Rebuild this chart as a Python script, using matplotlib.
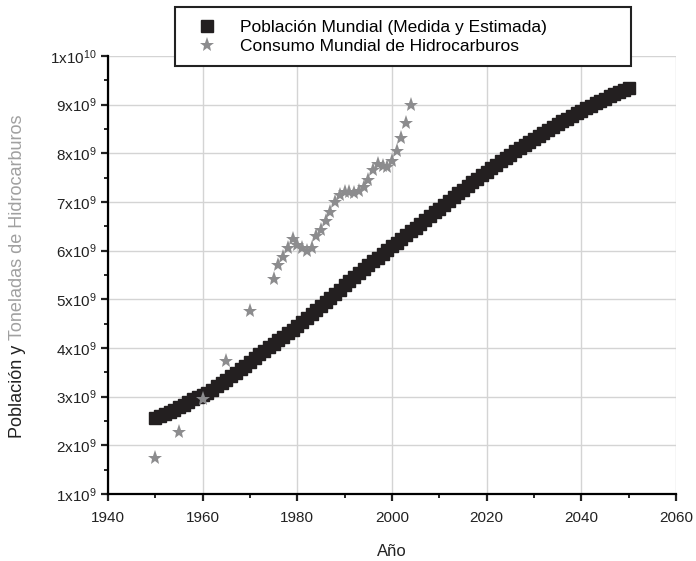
import numpy as np
import matplotlib
matplotlib.use("Agg")
import matplotlib.pyplot as plt
from matplotlib.ticker import FuncFormatter, MultipleLocator

plt.rcParams["font.family"] = ["Liberation Sans", "DejaVu Sans"]
plt.rcParams["mathtext.fontset"] = "custom"
plt.rcParams["mathtext.rm"] = "Liberation Sans"

# world population, 1950-2050 (measured + projected), billions
pop_years = list(range(1950, 2051))
pop_values = [
    2.558, 2.595, 2.637, 2.682, 2.730, 2.782, 2.835, 2.891, 2.948, 3.001,
    3.043, 3.084, 3.140, 3.210, 3.281, 3.350, 3.421, 3.490, 3.562, 3.637,
    3.713, 3.790, 3.867, 3.942, 4.017, 4.089, 4.160, 4.232, 4.304, 4.379,
    4.451, 4.534, 4.615, 4.696, 4.775, 4.856, 4.941, 5.027, 5.115, 5.201,
    5.289, 5.372, 5.456, 5.538, 5.619, 5.699, 5.779, 5.858, 5.935, 6.012,
    6.089, 6.165, 6.242, 6.319, 6.396, 6.473, 6.551, 6.630, 6.709, 6.788,
    6.866, 6.944, 7.022, 7.100, 7.177, 7.254, 7.330, 7.405, 7.479, 7.552,
    7.624, 7.696, 7.767, 7.837, 7.906, 7.974, 8.041, 8.107, 8.172, 8.236,
    8.299, 8.361, 8.422, 8.482, 8.541, 8.599, 8.656, 8.712, 8.767, 8.821,
    8.874, 8.926, 8.977, 9.027, 9.076, 9.124, 9.171, 9.217, 9.262, 9.306,
    9.350,
]

# world hydrocarbon consumption, tonnes (billions)
hc_years = [1950, 1955, 1960, 1965, 1970,
            1975, 1976, 1977, 1978, 1979, 1980, 1981, 1982, 1983, 1984,
            1985, 1986, 1987, 1988, 1989, 1990, 1991, 1992, 1993, 1994,
            1995, 1996, 1997, 1998, 1999, 2000, 2001, 2002, 2003, 2004]
hc_values = [1.75, 2.28, 2.95, 3.73, 4.77,
             5.42, 5.70, 5.88, 6.05, 6.25, 6.12, 6.05, 6.00, 6.05, 6.30,
             6.42, 6.60, 6.80, 7.00, 7.15, 7.20, 7.20, 7.18, 7.22, 7.30,
             7.45, 7.65, 7.78, 7.75, 7.72, 7.85, 8.05, 8.32, 8.62, 9.00]

pop_label = "Población Mundial (Medida y Estimada)"
hc_label = "Consumo Mundial de Hidrocarburos"

W, H = 696, 561
fig = plt.figure(figsize=(W / 100, H / 100), dpi=100)
ax = fig.add_axes([108 / W, 1 - 494 / H, 568 / W, 438 / H])

ax.plot(pop_years, np.array(pop_values) * 1e9, linestyle="none", marker="s",
        markersize=8.5, color="#231f20", label=pop_label, zorder=3)
ax.plot(hc_years, np.array(hc_values) * 1e9, linestyle="none", marker="*",
        markersize=11, color="#8c8c8e", markeredgewidth=0, label=hc_label, zorder=4)

ax.set_xlim(1940, 2060)
ax.set_ylim(1e9, 1e10)
ax.xaxis.set_major_locator(MultipleLocator(20))
ax.xaxis.set_minor_locator(MultipleLocator(10))
ax.yaxis.set_major_locator(MultipleLocator(1e9))
ax.yaxis.set_minor_locator(MultipleLocator(5e8))


def sci_fmt(v, pos):
    if v <= 0:
        return ""
    e = int(np.floor(np.log10(v) + 1e-9))
    m = int(round(v / 10 ** e))
    return r"$\mathregular{%dx10^{%d}}$" % (m, e)


ax.yaxis.set_major_formatter(FuncFormatter(sci_fmt))

ax.grid(True, which="major", color="#d4d4d4", linewidth=1)
ax.set_axisbelow(True)
for s in ["top", "right"]:
    ax.spines[s].set_visible(False)
for s in ["left", "bottom"]:
    ax.spines[s].set_linewidth(1.6)
ax.tick_params(which="major", length=5, width=1.6, labelsize=11, colors="#222222")
ax.tick_params(which="minor", length=3, width=1.2)
ax.tick_params(axis="x", pad=7)

ax.set_xlabel("Año", fontsize=12, color="#222222", labelpad=14)

# two-colour y label, centred on the axes
t1 = fig.text(18 / W, 0.5, "Población y ", rotation=90, fontsize=13,
              color="#222222", ha="center", va="top")
t2 = fig.text(18 / W, 0.5, "Toneladas de Hidrocarburos", rotation=90,
              fontsize=13, color="#a0a0a0", ha="center", va="bottom")
r = fig.canvas.get_renderer()
h1 = t1.get_window_extent(r).height
h2 = t2.get_window_extent(r).height
mid = H - 276
split = mid - (h1 + h2) / 2 + h1
t1.set_y(split / H)
t2.set_y(split / H)

leg = ax.legend(loc="upper left",
                bbox_to_anchor=(175 / W, 1 - 65 / H, 456 / W, 58 / H),
                bbox_transform=fig.transFigure, mode="expand",
                fontsize=12.5, frameon=True, fancybox=False,
                edgecolor="#222222", framealpha=1, borderaxespad=0,
                handletextpad=0.75, borderpad=0.72, labelspacing=0.22,
                handlelength=2.3)
leg.get_frame().set_linewidth(1.5)
leg.set_zorder(10)

fig.savefig("out.png", dpi=100)
